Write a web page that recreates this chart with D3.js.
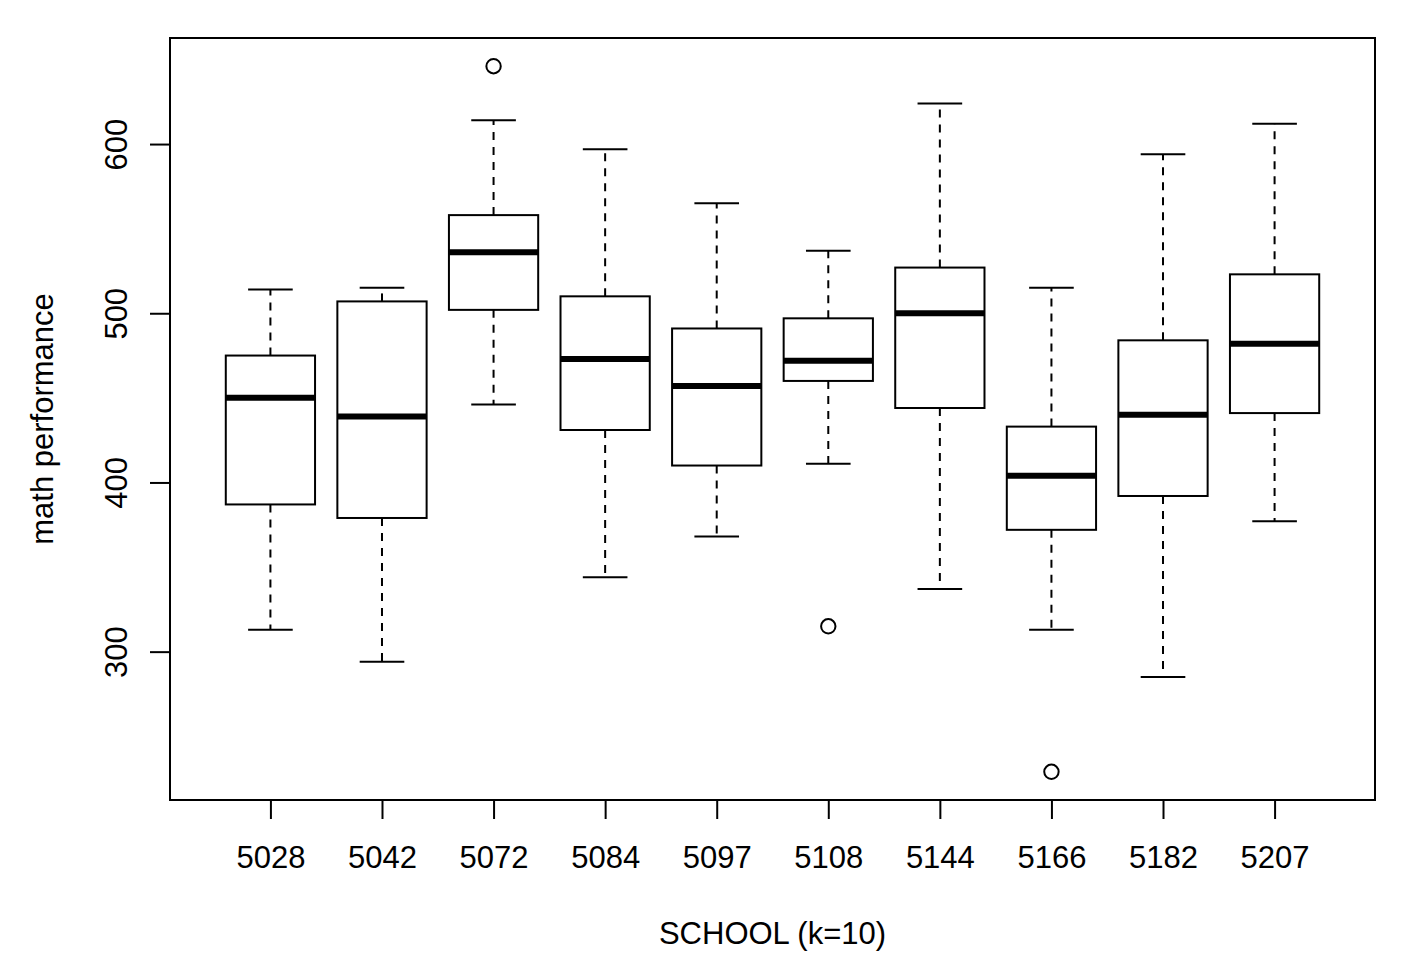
<!DOCTYPE html>
<html>
<head>
<meta charset="utf-8">
<script src="https://cdn.jsdelivr.net/npm/d3@7"></script>
<style>
  body { margin: 0; background: #fff; }
  svg text { font-family: "Liberation Sans", Arial, Helvetica, sans-serif; fill: #000; }
</style>
</head>
<body>
<div id="chart"></div>
<script>
// Box plot stats per school
const schools = ["5028", "5042", "5072", "5084", "5097", "5108", "5144", "5166", "5182", "5207"];
const whiskerLow  = [313, 294, 446, 344, 368, 411, 337, 313, 285, 377];
const q1          = [387, 379, 502, 431, 410, 460, 444, 372, 392, 441];
const median      = [450, 439, 536, 473, 457, 472, 500, 404, 440, 482];
const q3          = [475, 507, 558, 510, 491, 497, 527, 433, 484, 523];
const whiskerHigh = [514, 515, 614, 597, 565, 537, 624, 515, 594, 612];
const outliers = [
    {school: "5072", value: 646},
    {school: "5108", value: 315},
    {school: "5166", value: 229}
];
const yTicks = [300, 400, 500, 600];

// Plot region (R's default look)
const W = 1417, H = 974;
const plot = {left: 170, right: 1375, top: 38, bottom: 800};
const fontSize = "31px";

const svg = d3.select("#chart")
    .append("svg")
    .attr("width", W)
    .attr("height", H);

// R pads the ranges by 4%
const dataMin = d3.min([...whiskerLow, ...outliers.map(d => d.value)]);
const dataMax = d3.max([...whiskerHigh, ...outliers.map(d => d.value)]);
const pad = (dataMax - dataMin) * 0.04;

const x = d3.scaleLinear()
    .domain([0.1, schools.length + 0.9])
    .range([plot.left, plot.right]);

const y = d3.scaleLinear()
    .domain([dataMin - pad, dataMax + pad])
    .range([plot.bottom, plot.top]);

const boxW = x(1.4) - x(0.6);
const capW = boxW / 2;

const boxes = schools.map((s, i) => ({
    school: s, pos: i + 1,
    lo: whiskerLow[i], q1: q1[i], med: median[i], q3: q3[i], hi: whiskerHigh[i]
}));

const g = svg.append("g");

// whiskers (dashed)
g.selectAll(".whisker-up")
    .data(boxes)
    .join("line")
    .attr("x1", d => x(d.pos)).attr("x2", d => x(d.pos))
    .attr("y1", d => y(d.q3)).attr("y2", d => y(d.hi))
    .attr("stroke", "#000").attr("stroke-width", 2)
    .attr("stroke-dasharray", "8,7");

g.selectAll(".whisker-down")
    .data(boxes)
    .join("line")
    .attr("x1", d => x(d.pos)).attr("x2", d => x(d.pos))
    .attr("y1", d => y(d.q1)).attr("y2", d => y(d.lo))
    .attr("stroke", "#000").attr("stroke-width", 2)
    .attr("stroke-dasharray", "8,7");

// staples
["hi", "lo"].forEach(k => {
    g.selectAll(".cap-" + k)
        .data(boxes)
        .join("line")
        .attr("x1", d => x(d.pos) - capW / 2).attr("x2", d => x(d.pos) + capW / 2)
        .attr("y1", d => y(d[k])).attr("y2", d => y(d[k]))
        .attr("stroke", "#000").attr("stroke-width", 2);
});

// boxes
g.selectAll(".box")
    .data(boxes)
    .join("rect")
    .attr("x", d => x(d.pos) - boxW / 2)
    .attr("y", d => y(d.q3))
    .attr("width", boxW)
    .attr("height", d => y(d.q1) - y(d.q3))
    .attr("fill", "#fff")
    .attr("stroke", "#000").attr("stroke-width", 2);

// medians
g.selectAll(".median")
    .data(boxes)
    .join("line")
    .attr("x1", d => x(d.pos) - boxW / 2).attr("x2", d => x(d.pos) + boxW / 2)
    .attr("y1", d => y(d.med)).attr("y2", d => y(d.med))
    .attr("stroke", "#000").attr("stroke-width", 6);

// outliers
g.selectAll(".outlier")
    .data(outliers)
    .join("circle")
    .attr("cx", d => x(schools.indexOf(d.school) + 1))
    .attr("cy", d => y(d.value))
    .attr("r", 7.2)
    .attr("fill", "none")
    .attr("stroke", "#000").attr("stroke-width", 2);

// frame
svg.append("rect")
    .attr("x", plot.left).attr("y", plot.top)
    .attr("width", plot.right - plot.left)
    .attr("height", plot.bottom - plot.top)
    .attr("fill", "none")
    .attr("stroke", "#000").attr("stroke-width", 2);

// x axis
const xAxis = svg.append("g")
    .attr("transform", `translate(0,${plot.bottom})`)
    .call(d3.axisBottom(x)
        .tickValues(d3.range(1, schools.length + 1))
        .tickFormat(d => schools[d - 1])
        .tickSize(19)
        .tickPadding(0)
        .tickSizeOuter(0));
xAxis.select(".domain").remove();
xAxis.selectAll("line").attr("stroke", "#000").attr("stroke-width", 2);
xAxis.selectAll("text")
    .attr("y", 68).attr("dy", 0)
    .style("font-size", fontSize);
svg.append("line")
    .attr("x1", x(1)).attr("x2", x(schools.length))
    .attr("y1", plot.bottom).attr("y2", plot.bottom)
    .attr("stroke", "#000").attr("stroke-width", 2);

// y axis
const yAxis = svg.append("g")
    .attr("transform", `translate(${plot.left},0)`)
    .call(d3.axisLeft(y)
        .tickValues(yTicks)
        .tickSize(20)
        .tickSizeOuter(0));
yAxis.select(".domain").remove();
yAxis.selectAll("line").attr("stroke", "#000").attr("stroke-width", 2);
yAxis.selectAll("text")
    .attr("transform", "rotate(-90)")
    .attr("x", 0).attr("y", -43).attr("dy", 0)
    .style("text-anchor", "middle")
    .style("font-size", fontSize);
svg.append("line")
    .attr("x1", plot.left).attr("x2", plot.left)
    .attr("y1", y(yTicks[0])).attr("y2", y(yTicks[yTicks.length - 1]))
    .attr("stroke", "#000").attr("stroke-width", 2);

// axis titles
svg.append("text")
    .attr("x", (plot.left + plot.right) / 2)
    .attr("y", 944)
    .attr("text-anchor", "middle")
    .style("font-size", fontSize)
    .text("SCHOOL (k=10)");

svg.append("text")
    .attr("transform", `translate(53,${(plot.top + plot.bottom) / 2}) rotate(-90)`)
    .attr("text-anchor", "middle")
    .style("font-size", fontSize)
    .text("math performance");
</script>
</body>
</html>
